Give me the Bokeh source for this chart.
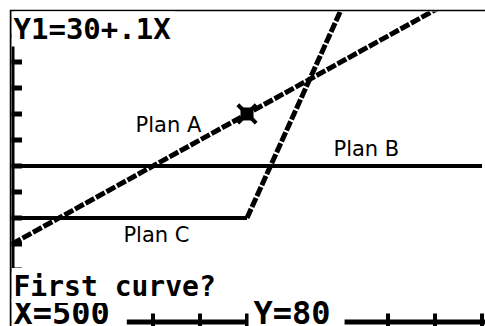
import math
from bokeh.plotting import figure
from bokeh.models import Range1d, Span, Label
from bokeh.embed import file_html
from bokeh.resources import INLINE

# TI-83 window settings
x_min, x_max = 0, 1000
y_min, y_max = 0, 120

# Plans (cost vs minutes)
plan_a_x = [0, 1000]
plan_a_y = [30, 130]          # Y1 = 30 + .1X
plan_b_x = [0, 1000]
plan_b_y = [60, 60]
plan_c_x = [0, 500, 1000]
plan_c_y = [40, 40, 240]

# Trace cursor
cursor_x = [500]
cursor_y = [80]

# Axis ticks (Xscl = 100, Yscl = 10)
x_ticks = [100, 200, 300, 400, 500, 600, 700, 800, 900, 1000]
y_ticks = [10, 20, 30, 40, 50, 60, 70, 80, 90, 100, 110]

# Texts
title_text = "Y1=30+.1X"
prompt_text = "First curve?"
x_text = "X=500"
y_text = "Y=80"
plan_names = ["Plan A", "Plan B", "Plan C"]

p = figure(width=476, height=317, margin=(9, 0, 0, 9),
           x_range=Range1d(-1.06, 1007.4), y_range=Range1d(-1.73, 119.4),
           x_axis_type=None, y_axis_type=None,
           toolbar_location=None, output_backend="svg",
           min_border_left=2, min_border_top=2, min_border_right=0, min_border_bottom=0)
p.border_fill_color = "black"
p.background_fill_color = "white"
p.outline_line_color = None

# axes of the graph screen
p.add_layout(Span(location=0, dimension="height", line_color="black", line_width=5))
p.add_layout(Span(location=0, dimension="width", line_color="black", line_width=5))
p.scatter(x=[0] * len(y_ticks), y=y_ticks, marker="dash", size=20, line_width=5, color="black")
p.scatter(x=x_ticks, y=[0] * len(x_ticks), marker="dash", angle=math.pi / 2, size=17,
          line_width=4, color="black")

# graphs
p.line(plan_b_x, plan_b_y, line_width=4, color="black")
p.line(plan_c_x[:2], plan_c_y[:2], line_width=4, color="black")
p.line(plan_c_x[1:], plan_c_y[1:], line_width=5, color="black", line_dash="10 2")
p.line(plan_a_x, plan_a_y, line_width=5, color="black", line_dash="10 2")

# cursor
p.scatter(cursor_x, cursor_y, marker="x", size=26, line_width=4, color="black")
p.scatter(cursor_x, cursor_y, marker="square", size=12, color="black")

# plan labels
plan_pos = [(263, 75.6), (684, 66.4), (237, 33.3)]
for name, (lx, ly) in zip(plan_names, plan_pos):
    p.add_layout(Label(x=lx, y=ly, text=name, text_font="DejaVu Sans",
                       text_font_size="21px", text_color="black",
                       text_baseline="alphabetic"))

calc_font = "DejaVu Sans Mono"
p.add_layout(Label(x=-1.06, y=3.2, text=x_text, text_font=calc_font, text_font_style="bold",
                   text_font_size="32px", text_color="black", text_baseline="alphabetic",
                   background_fill_color="white", background_fill_alpha=1.0,
                   padding=dict(left=2, right=17, top=0, bottom=2)))
p.add_layout(Label(x=503.2, y=3.2, text=y_text, text_font=calc_font, text_font_style="bold",
                   text_font_size="32px", text_color="black", text_baseline="alphabetic",
                   background_fill_color="white", background_fill_alpha=1.0,
                   padding=dict(left=5, right=14, top=0, bottom=2)))
p.add_layout(Label(x=-1.06, y=14.05, text=prompt_text, text_font=calc_font, text_font_style="bold",
                   text_font_size="28px", text_color="black", text_baseline="alphabetic",
                   background_fill_color="white", background_fill_alpha=1.0,
                   padding=dict(left=2, right=4, top=2, bottom=0)))
p.add_layout(Label(x=-1.06, y=112.9, text=title_text, text_font=calc_font, text_font_style="bold",
                   text_font_size="29px", text_color="black", text_baseline="alphabetic",
                   background_fill_color="white", background_fill_alpha=1.0,
                   padding=dict(left=2, right=4, top=2, bottom=0)))

open("out.html", "w").write(file_html(p, INLINE))
